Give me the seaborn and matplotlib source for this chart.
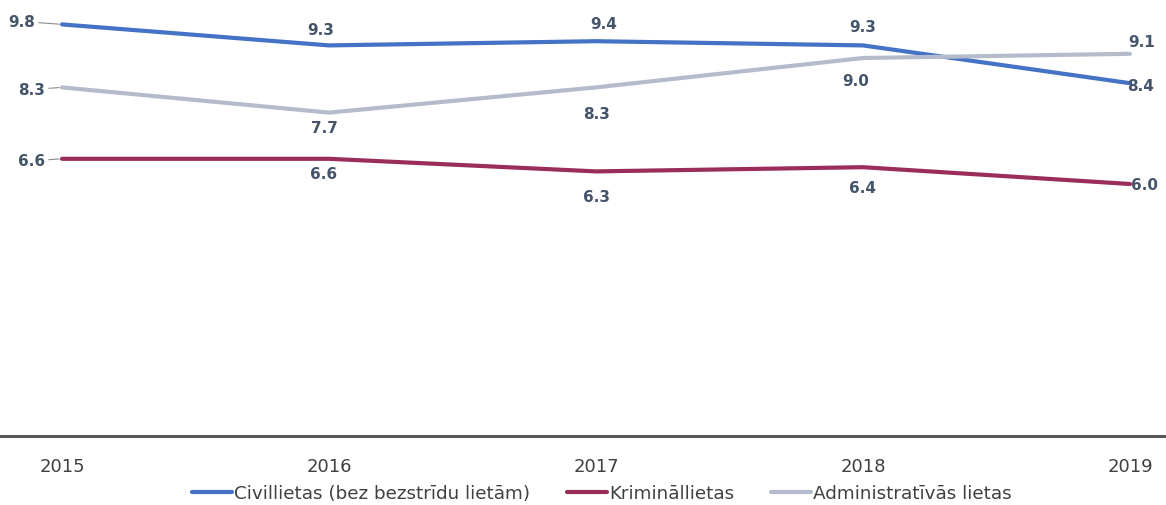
import pandas as pd
import seaborn as sns
import matplotlib.pyplot as plt

# data
years = [2015, 2016, 2017, 2018, 2019]
civil = [9.8, 9.3, 9.4, 9.3, 8.4]
criminal = [6.6, 6.6, 6.3, 6.4, 6.0]
admin = [8.3, 7.7, 8.3, 9.0, 9.1]

series_names = ["Civillietas (bez bezstrīdu lietām)", "Krimināllietas", "Administratīvās lietas"]
colors = ["#4472C4", "#9B2D5C", "#B4BCCC"]

# label offsets in pixels (dx, dy) per series and year
civil_off = [(-40, 3), (-8, 16), (8, 18), (0, 19), (11, -2)]
criminal_off = [(-30, -2), (-5, -15), (1, -25), (0, -20), (15, -1)]
admin_off = [(-30, -2), (-5, -15), (1, -26), (-7, -22), (12, 12)]

df = pd.DataFrame({
    "year": years * 3,
    "value": civil + criminal + admin,
    "series": [series_names[0]] * 5 + [series_names[1]] * 5 + [series_names[2]] * 5,
})

sns.set_style("white")
plt.rcParams["font.family"] = ["DejaVu Sans"]

fig = plt.figure(figsize=(11.66, 5.06), dpi=100)
ax = fig.add_axes([0, 1 - 437 / 506, 1, 437 / 506])

sns.lineplot(data=df, x="year", y="value", hue="series", palette=colors,
             linewidth=3, ax=ax, legend=True)

ax.set_xlim(2015 - 62 / 267, 2019 + 36 / 267)
ax.set_ylim(0, 437 / 42)

# data labels
for vals, offs in [(civil, civil_off), (criminal, criminal_off), (admin, admin_off)]:
    for i, (x, v) in enumerate(zip(years, vals)):
        dx, dy = offs[i]
        kw = {}
        if i == 0:
            kw["arrowprops"] = dict(arrowstyle="-", color="#8C8C8C", lw=0.8,
                                    shrinkA=0, shrinkB=2)
        ax.annotate(f"{v:.1f}", (x, v), xytext=(dx, dy), textcoords="offset pixels",
                    ha="center", va="center", fontsize=11, fontweight="bold",
                    color="#44546A", **kw)

# axes styling
for s in ["left", "right", "top"]:
    ax.spines[s].set_visible(False)
ax.spines["bottom"].set_color("#595959")
ax.spines["bottom"].set_linewidth(2.2)
ax.set_yticks([])
ax.set_xticks(years)
ax.set_xticklabels([str(y) for y in years])
ax.tick_params(axis="x", length=0, pad=15, labelsize=13, labelcolor="#404040")
ax.set_xlabel("")
ax.set_ylabel("")

handles, labels = ax.get_legend_handles_labels()
ax.legend_.remove()
fig.legend(handles, labels, loc="center", bbox_to_anchor=(0.516, 1 - 494 / 506),
           ncol=3, frameon=False, fontsize=13.2, handlelength=2.2,
           handletextpad=0.1, columnspacing=2.0, labelcolor="#404040")

fig.savefig("out.png", dpi=100)
